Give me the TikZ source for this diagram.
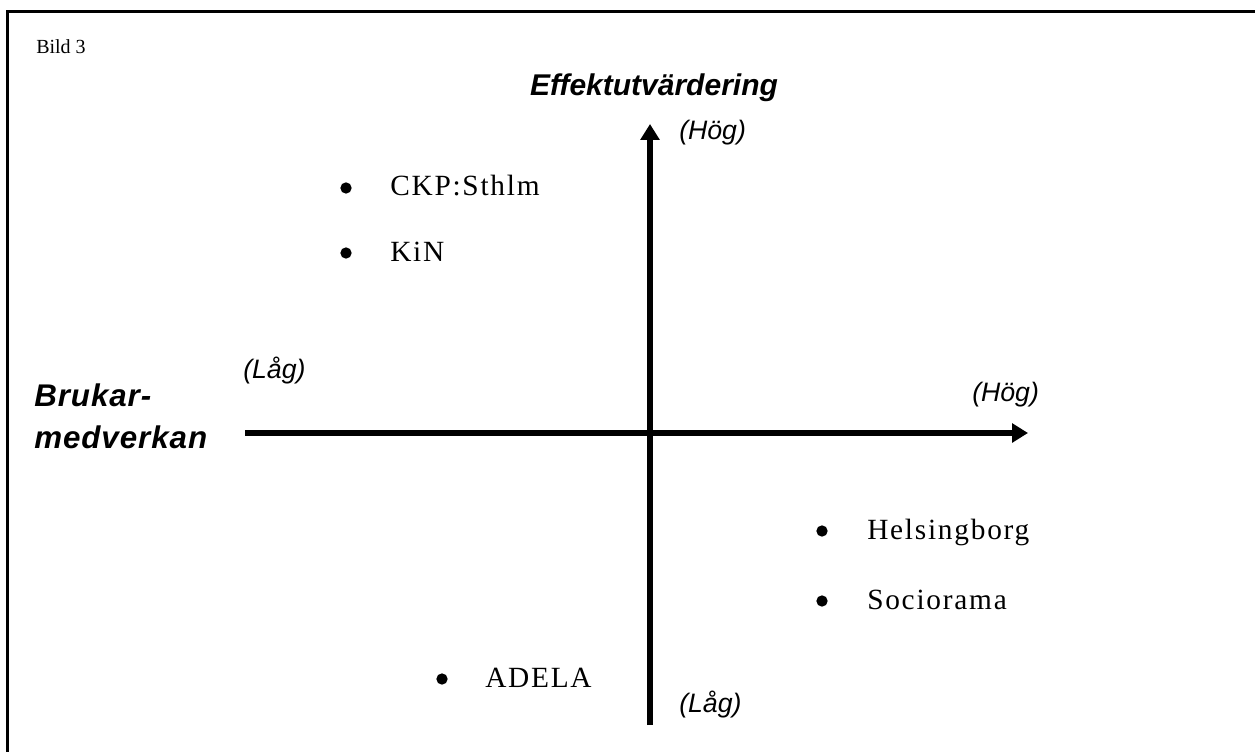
\documentclass[tikz,border=0pt]{standalone}
\usepackage{fontspec}
\setmainfont{Liberation Serif}
\setsansfont{Liberation Sans}
\newfontfamily\itemfont[LetterSpace=6]{Liberation Serif}
\newfontfamily\axisfont[LetterSpace=3]{Liberation Sans}
\usetikzlibrary{positioning,arrows.meta}

\begin{document}
\begin{tikzpicture}[x=0.75pt,y=-0.75pt,
  axis/.style={line width=4.5pt,-{Triangle[length=12pt,width=14pt]}},
  dot/.style={circle,fill,inner sep=0pt,minimum size=8.5pt},
  item/.style={anchor=base west,inner sep=0pt,font=\itemfont\fontsize{22}{26}\selectfont},
  level/.style={anchor=base west,inner sep=0pt,font=\sffamily\itshape\fontsize{20}{24}\selectfont},
  head/.style={inner sep=0pt,font=\sffamily\bfseries\itshape\fontsize{22.5}{28}\selectfont},
  side/.style={anchor=base west,inner sep=0pt,font=\axisfont\bfseries\itshape\fontsize{23.5}{28}\selectfont}]
\useasboundingbox (0,0) rectangle (1255,752);
% frame, only left and top edges show
\draw[line width=2.25pt] (7.5,770) -- (7.5,12) -- (1270,12);
\node[anchor=base west,inner sep=0pt,font=\fontsize{15}{18}\selectfont] (bild) at (36,54) {Bild 3};

% axes
\coordinate (xs) at (245,433);
\coordinate (xe) at (1028,433);
\coordinate (ys) at (650,725);
\coordinate (ye) at (650,124);
\draw[axis] (xs) -- (xe);
\draw[axis] (ys) -- (ye);

\node[head,anchor=base] (effekt) at (654,96) {Effektutvärdering};
\node[side] (brukar) at (34,406) {Brukar-};
\node[side] (medverkan) at (34,448) {medverkan};

\node[level] (yhog) at (679,140) {(Hög)};
\node[level] (ylag) at (679,712) {(Låg)};
\node[level] (xlag) at (243,378) {(Låg)};
\node[level] (xhog) at (972,401) {(Hög)};

% organisations
\node[dot] (d1) at (346,188) {};
\node[item] (ckp) at (390,196) {CKP:Sthlm};
\node[dot] (d2) at (346,253) {};
\node[item] (kin) at (390,261) {KiN};
\node[dot] (d3) at (822,531) {};
\node[item] (hbg) at (867,539) {Helsingborg};
\node[dot] (d4) at (822,601) {};
\node[item] (socio) at (867,609) {Sociorama};
\node[dot] (d5) at (442,679) {};
\node[item] (adela) at (485,687) {ADELA};
\end{tikzpicture}
\end{document}
